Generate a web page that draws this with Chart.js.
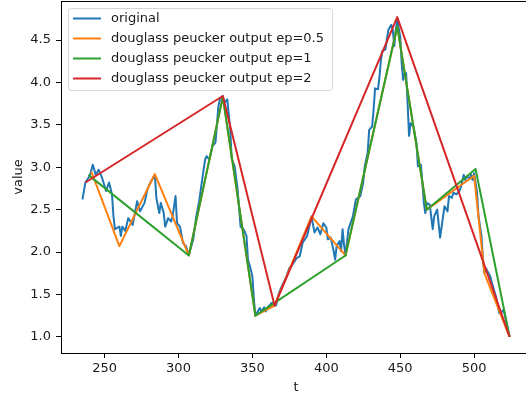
<!DOCTYPE html>
<html>
<head>
<meta charset="utf-8">
<script src="https://cdn.jsdelivr.net/npm/chart.js@4"></script>
<style>
  html, body { margin: 0; padding: 0; background: #fff; overflow: hidden; }
  #wrap { width: 526px; height: 396px; overflow: hidden; }
</style>
</head>
<body>
<div id="wrap"><canvas id="grafica" width="545" height="396"></canvas></div>
<script>
// serie original
const tOriginal = [235, 237, 240, 242, 244, 246, 248, 251, 253, 255, 256, 257, 260, 261, 262, 264, 266, 269, 272, 274,
    277, 279, 281, 284, 285, 287, 288, 290, 291, 293, 295, 296, 298, 299, 301, 303, 305, 307, 310, 312,
    314, 316, 318, 319, 321, 323, 325, 327, 328, 330, 331, 333, 334, 335, 336, 338, 340, 342, 344, 346,
    347, 349, 350, 351, 352, 355, 356, 358, 359, 361, 363, 365, 366, 368, 370, 373, 375, 377, 380, 382,
    384, 387, 389, 390, 392, 394, 396, 398, 400, 401, 403, 405, 406, 407, 409, 410, 411, 412, 413, 415,
    418, 420, 423, 425, 426, 428, 429, 431, 432, 433, 435, 436, 437, 438, 440, 441, 442, 444, 445, 446,
    447, 448, 450, 451, 452, 453, 454, 455, 456, 457, 459, 461, 462, 464, 465, 466, 467, 468, 470, 472,
    473, 475, 477, 479, 480, 482, 483, 485, 486, 488, 490, 491, 493, 494, 495, 497, 498, 499, 500, 502,
    503, 505, 506, 507, 508, 511, 512, 514, 515, 517, 518, 520, 522, 524];
const vOriginal = [2.62, 2.82, 2.90, 3.03, 2.91, 2.97, 2.89, 2.72, 2.82, 2.68, 2.42, 2.27, 2.30, 2.19, 2.30, 2.25, 2.40, 2.32, 2.60, 2.48,
    2.58, 2.74, 2.82, 2.91, 2.64, 2.46, 2.58, 2.46, 2.30, 2.40, 2.36, 2.42, 2.66, 2.34, 2.30, 2.11, 2.07, 1.97, 2.15, 2.42,
    2.60, 2.85, 3.09, 3.13, 3.09, 3.25, 3.29, 3.72, 3.80, 3.84, 3.76, 3.80, 3.62, 3.45, 3.10, 3.01, 2.74, 2.30, 2.27, 2.19,
    1.91, 1.79, 1.71, 1.45, 1.25, 1.34, 1.30, 1.35, 1.30, 1.36, 1.40, 1.40, 1.37, 1.52, 1.60, 1.71, 1.81, 1.85, 1.93, 1.95,
    2.11, 2.19, 2.34, 2.42, 2.23, 2.29, 2.21, 2.34, 2.29, 2.15, 2.17, 2.01, 1.91, 2.07, 2.13, 2.01, 2.27, 2.09, 1.96, 2.27,
    2.42, 2.62, 2.66, 2.82, 3.01, 3.17, 3.44, 3.48, 3.68, 3.93, 3.92, 4.07, 4.27, 4.37, 4.39, 4.51, 4.62, 4.68, 4.62, 4.43,
    4.62, 4.74, 4.54, 4.23, 4.03, 4.11, 4.11, 3.76, 3.37, 3.52, 3.48, 3.29, 3.01, 3.03, 2.82, 2.58, 2.46, 2.58, 2.56, 2.27,
    2.42, 2.50, 2.17, 2.42, 2.54, 2.48, 2.66, 2.64, 2.70, 2.68, 2.72, 2.76, 2.91, 2.85, 2.89, 2.87, 2.91, 2.85, 2.93, 2.70,
    2.42, 2.19, 1.91, 1.75, 1.81, 1.71, 1.64, 1.52, 1.46, 1.28, 1.28, 1.32, 1.16, 1.00];

// salida con ep=0.5
const tEp05 = [241, 260, 284, 307, 330, 352, 365, 390, 413, 448, 468, 500, 507, 524];
const vEp05 = [2.95, 2.07, 2.92, 1.96, 3.83, 1.25, 1.37, 2.42, 1.96, 4.66, 2.50, 2.90, 1.75, 1.00];

// salida con ep=1
const tEp1 = [239, 307, 330, 352, 413, 448, 468, 501, 524];
const vEp1 = [2.91, 1.96, 3.83, 1.25, 1.96, 4.66, 2.50, 2.98, 1.00];

// salida con ep=2
const tEp2 = [237, 330, 365, 448, 524];
const vEp2 = [2.82, 3.84, 1.37, 4.77, 1.00];

const ticksY = [1.0, 1.5, 2.0, 2.5, 3.0, 3.5, 4.0, 4.5];
const ticksX = [250, 300, 350, 400, 450, 500];

const puntos = (ts, vs) => ts.map((t, i) => ({ x: t, y: vs[i] }));

const fuente = { family: 'DejaVu Sans', size: 13, lineHeight: 1.2 };
const colorTexto = '#1a1a1a';

// marco completo del área de la gráfica (arriba y derecha)
const marco = {
    id: 'marco',
    afterDatasetsDraw(chart) {
        const { ctx, chartArea: a } = chart;
        ctx.save();
        ctx.strokeStyle = '#000';
        ctx.lineWidth = 1;
        ctx.beginPath();
        ctx.moveTo(a.left, a.top + 0.5);
        ctx.lineTo(a.right, a.top + 0.5);
        ctx.lineTo(a.right, a.bottom);
        ctx.stroke();
        ctx.restore();
    }
};

// leyenda con marco, como la de matplotlib
const leyenda = {
    id: 'leyenda',
    afterDraw(chart) {
        const ctx = chart.ctx;
        const x0 = 68.5, y0 = 8.5, w = 264, h = 82;
        ctx.save();
        ctx.beginPath();
        ctx.roundRect(x0, y0, w, h, 3);
        ctx.fillStyle = 'rgba(255,255,255,0.8)';
        ctx.fill();
        ctx.strokeStyle = '#d6d6d6';
        ctx.lineWidth = 1;
        ctx.stroke();
        ctx.font = '13px "DejaVu Sans"';
        ctx.textBaseline = 'middle';
        chart.data.datasets.forEach((ds, i) => {
            const y = 18.5 + i * 20;
            ctx.strokeStyle = ds.borderColor;
            ctx.lineWidth = 2;
            ctx.beginPath();
            ctx.moveTo(73, y);
            ctx.lineTo(101, y);
            ctx.stroke();
            ctx.fillStyle = colorTexto;
            ctx.fillText(ds.label, 111, y + 0.5);
        });
        ctx.restore();
    }
};

const ctx = document.getElementById('grafica').getContext('2d');
new Chart(ctx, {
    type: 'line',
    data: {
        datasets: [
            { label: 'original', data: puntos(tOriginal, vOriginal), borderColor: '#1f77b4', order: 4 },
            { label: 'douglass peucker output ep=0.5', data: puntos(tEp05, vEp05), borderColor: '#ff7f0e', order: 3 },
            { label: 'douglass peucker output ep=1', data: puntos(tEp1, vEp1), borderColor: '#2ca02c', order: 2 },
            { label: 'douglass peucker output ep=2', data: puntos(tEp2, vEp2), borderColor: '#d62728', order: 1 }
        ]
    },
    options: {
        responsive: false,
        animation: false,
        events: [],
        layout: { padding: { left: 0, right: 14, top: 1, bottom: 0 } },
        elements: {
            line: { borderWidth: 2, tension: 0, fill: false, borderJoinStyle: 'round' },
            point: { radius: 0 }
        },
        plugins: { legend: { display: false }, tooltip: { enabled: false } },
        scales: {
            x: {
                type: 'linear',
                min: 220.5,
                max: 538.5,
                afterBuildTicks: s => { s.ticks = ticksX.map(v => ({ value: v })); },
                afterFit: s => { s.height = 43; s.paddingLeft = 0; s.paddingRight = 0; },
                ticks: { font: fuente, color: colorTexto, padding: 3, maxRotation: 0 },
                grid: { display: true, drawOnChartArea: false, drawTicks: true, tickLength: 5, color: '#000', tickWidth: 1 },
                border: { display: true, color: '#000', width: 1 },
                title: { display: true, text: 't', font: fuente, color: colorTexto, padding: { top: 0, bottom: 1 } }
            },
            y: {
                type: 'linear',
                min: 0.81,
                max: 4.96,
                afterBuildTicks: s => { s.ticks = ticksY.map(v => ({ value: v })); },
                afterFit: s => { s.width = 61; s.paddingTop = 0; s.paddingBottom = 0; },
                ticks: { font: fuente, color: colorTexto, padding: 5, callback: v => v.toFixed(1) },
                grid: { display: true, drawOnChartArea: false, drawTicks: true, tickLength: 5, color: '#000', tickWidth: 1 },
                border: { display: true, color: '#000', width: 1 },
                title: { display: true, text: 'value', font: fuente, color: colorTexto, padding: { top: 10.5, bottom: 0 } }
            }
        }
    },
    plugins: [marco, leyenda]
});
</script>
</body>
</html>
